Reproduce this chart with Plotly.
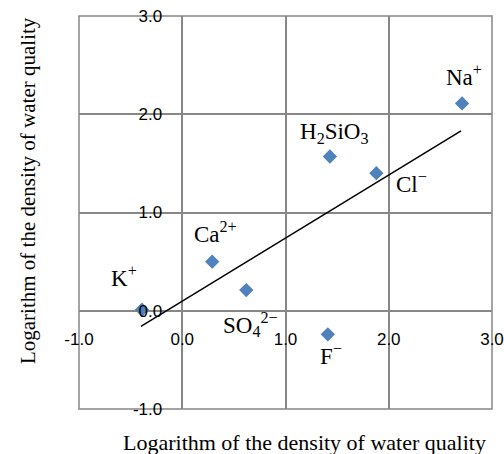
import plotly.graph_objects as go

ions = ["K<sup>+</sup>", "Ca<sup>2+</sup>", "SO<sub>4</sub><sup>2−</sup>", "F<sup>−</sup>",
        "H<sub>2</sub>SiO<sub>3</sub>", "Cl<sup>−</sup>", "Na<sup>+</sup>"]
x_vals = [-0.39, 0.29, 0.62, 1.41, 1.43, 1.88, 2.71]
y_vals = [0.01, 0.50, 0.21, -0.24, 1.57, 1.40, 2.11]
# label positions (data coordinates)
label_x = [-0.56, 0.32, 0.66, 1.44, 1.47, 2.22, 2.73]
label_y = [0.35, 0.80, -0.14, -0.45, 1.81, 1.31, 2.39]

trend_x = [-0.40, 2.70]
trend_y = [-0.16, 1.83]

tick_vals = [-1, 0, 1, 2, 3]
tick_text = ["-1.0", "0.0", "1.0", "2.0", "3.0"]

axis_title = "Logarithm of the density of water quality"

fig = go.Figure()
fig.add_trace(go.Scatter(x=trend_x, y=trend_y, mode="lines",
                         line=dict(color="black", width=1.5), showlegend=False))
fig.add_trace(go.Scatter(x=x_vals, y=y_vals, mode="markers",
                         marker=dict(symbol="diamond", size=11, color="#4F81BD"),
                         showlegend=False))

for t, lx, ly in zip(ions, label_x, label_y):
    fig.add_annotation(x=lx, y=ly, text=t, showarrow=False,
                       font=dict(family="Liberation Serif", size=23, color="black"))

fig.add_annotation(x=0.545, y=-0.0865, xref="paper", yref="paper", text=axis_title,
                   showarrow=False, yanchor="middle", xanchor="center",
                   font=dict(family="Liberation Serif", size=22, color="black"))
fig.add_annotation(x=-0.123, y=0.555, xref="paper", yref="paper", text=axis_title,
                   showarrow=False, textangle=-90, xanchor="center", yanchor="middle",
                   font=dict(family="Liberation Serif", size=21, color="black"))

fig.add_shape(type="rect", xref="x domain", yref="y domain", x0=0, x1=1, y0=0, y1=1,
              line=dict(color="#878787", width=1.5), layer="below")

grid = dict(showgrid=True, gridcolor="#878787", gridwidth=1.5, zeroline=False,
            showline=False, ticks="", tickvals=tick_vals, ticktext=tick_text,
            tickfont=dict(family="Liberation Sans", size=17, color="black"),
            range=[-1, 3], fixedrange=True, automargin=False)

fig.update_layout(
    template="none",
    width=504, height=454,
    margin=dict(l=79, r=12, t=16, b=45, pad=0),
    paper_bgcolor="white", plot_bgcolor="white",
    xaxis=dict(grid, anchor="free", position=0.25, ticklabelstandoff=16),
    yaxis=dict(grid, anchor="free", position=0.25, ticklabelstandoff=20),
)

fig.write_html("out.html", config={"displayModeBar": False},
               post_script="document.body.style.margin='0';")
